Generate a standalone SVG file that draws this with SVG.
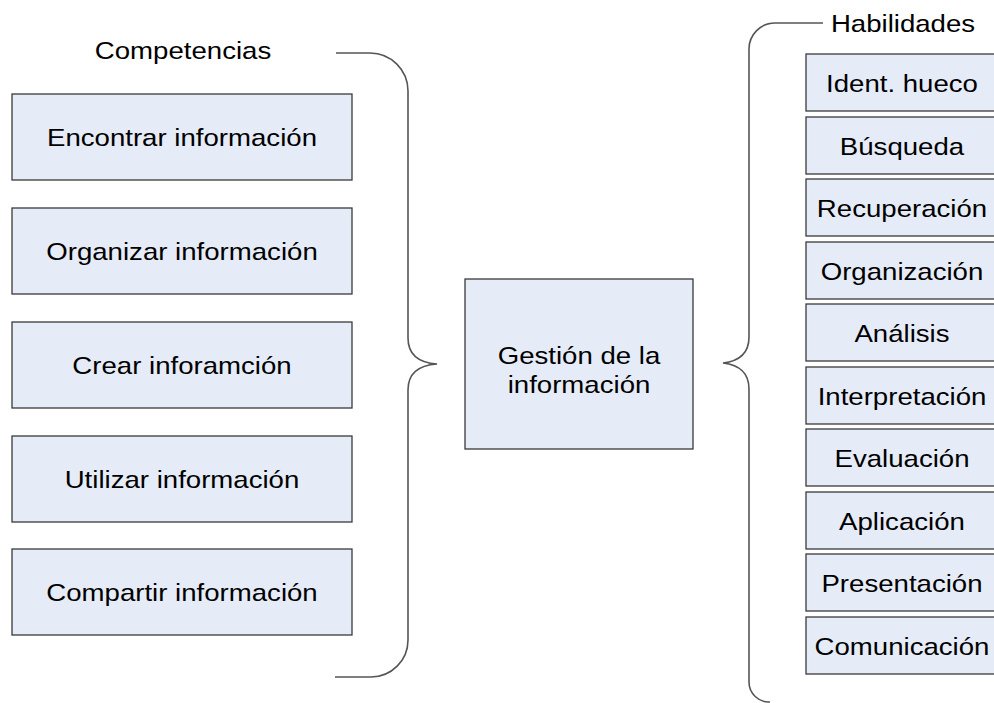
<svg xmlns="http://www.w3.org/2000/svg" width="994" height="703" viewBox="0 0 994 703">
<style>
.box{fill:#E6ECF7;stroke:#3a3a3a;stroke-width:1.3}
.t{font-family:"Liberation Sans",Arial,sans-serif;font-size:24px;fill:#000;text-anchor:middle}
.br{fill:none;stroke:#555;stroke-width:1.6}
</style>
<rect width="994" height="703" fill="#fff"/>
<g id="connectors">
<path class="br" d="M336,53 H370 A38,38 0 0 1 408,91 V338 Q408,362 437,364 Q408,366 408,390 V640 A37,37 0 0 1 371,677 H335"/>
<path class="br" d="M823,23 H775 A26,26 0 0 0 749,49 V337 Q749,360 723,363 Q749,366 749,389 V682 A20,20 0 0 0 770,702"/>
</g>
<g id="lbl-competencias"><text class="t" transform="translate(183,59) scale(1.15,1)">Competencias</text></g>
<g id="lbl-habilidades"><text class="t" transform="translate(903,32) scale(1.15,1)">Habilidades</text></g>
<g id="n-encontrar"><rect class="box" x="12" y="94" width="340" height="86"/><text class="t" transform="translate(182,146) scale(1.15,1)">Encontrar información</text></g>
<g id="n-organizar"><rect class="box" x="12" y="208" width="340" height="86"/><text class="t" transform="translate(182,260) scale(1.15,1)">Organizar información</text></g>
<g id="n-crear"><rect class="box" x="12" y="322" width="340" height="86"/><text class="t" transform="translate(182,374) scale(1.15,1)">Crear inforamción</text></g>
<g id="n-utilizar"><rect class="box" x="12" y="436" width="340" height="86"/><text class="t" transform="translate(182,488) scale(1.15,1)">Utilizar información</text></g>
<g id="n-compartir"><rect class="box" x="12" y="549" width="340" height="86"/><text class="t" transform="translate(182,601) scale(1.15,1)">Compartir información</text></g>
<g id="n-gestion"><rect class="box" x="465" y="279" width="228" height="170"/><text class="t" transform="translate(579,364) scale(1.15,1)">Gestión de la</text><text class="t" transform="translate(579,393) scale(1.15,1)">información</text></g>
<g id="n-ident"><rect class="box" x="806" y="54" width="200" height="57"/><text class="t" transform="translate(902,92) scale(1.15,1)">Ident. hueco</text></g>
<g id="n-busqueda"><rect class="box" x="806" y="117" width="200" height="57"/><text class="t" transform="translate(902,155) scale(1.15,1)">Búsqueda</text></g>
<g id="n-recuperacion"><rect class="box" x="806" y="179" width="200" height="57"/><text class="t" transform="translate(902,217) scale(1.15,1)">Recuperación</text></g>
<g id="n-organizacion"><rect class="box" x="806" y="242" width="200" height="57"/><text class="t" transform="translate(902,280) scale(1.15,1)">Organización</text></g>
<g id="n-analisis"><rect class="box" x="806" y="304" width="200" height="57"/><text class="t" transform="translate(902,342) scale(1.15,1)">Análisis</text></g>
<g id="n-interpretacion"><rect class="box" x="806" y="367" width="200" height="57"/><text class="t" transform="translate(902,405) scale(1.15,1)">Interpretación</text></g>
<g id="n-evaluacion"><rect class="box" x="806" y="429" width="200" height="57"/><text class="t" transform="translate(902,467) scale(1.15,1)">Evaluación</text></g>
<g id="n-aplicacion"><rect class="box" x="806" y="492" width="200" height="57"/><text class="t" transform="translate(902,530) scale(1.15,1)">Aplicación</text></g>
<g id="n-presentacion"><rect class="box" x="806" y="554" width="200" height="57"/><text class="t" transform="translate(902,592) scale(1.15,1)">Presentación</text></g>
<g id="n-comunicacion"><rect class="box" x="806" y="617" width="200" height="57"/><text class="t" transform="translate(902,655) scale(1.15,1)">Comunicación</text></g>
</svg>
